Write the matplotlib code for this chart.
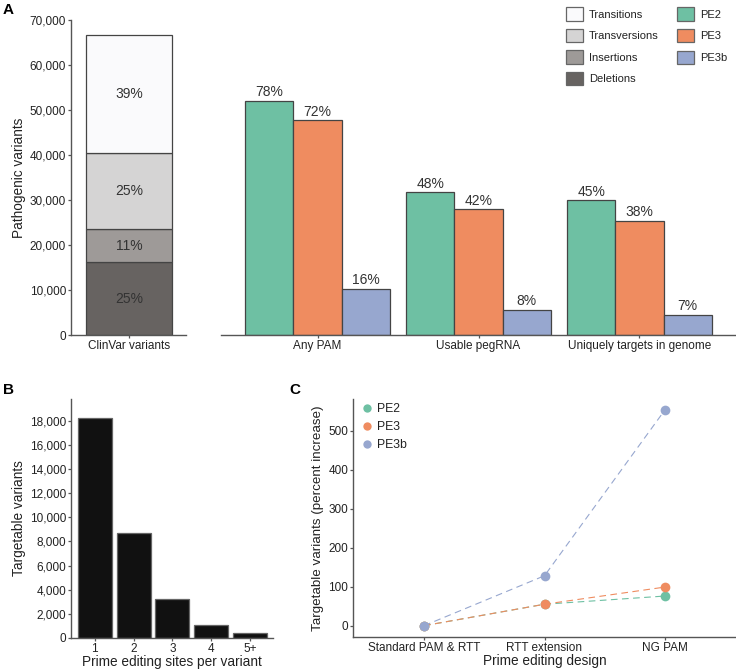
import numpy as np
import matplotlib
matplotlib.use("Agg")
import matplotlib.pyplot as plt
from matplotlib.patches import Patch
from matplotlib.lines import Line2D

plt.rcParams['font.family'] = ['Liberation Sans', 'DejaVu Sans']

# ---- data ----
# panel A, stacked ClinVar bar (bottom to top)
variant_types = ["Deletions", "Insertions", "Transversions", "Transitions"]
variant_counts = [16200, 7300, 16900, 26300]
variant_pcts = ["25%", "11%", "25%", "39%"]

# panel A, grouped bars
filters = ["Any PAM", "Usable pegRNA", "Uniquely targets in genome"]
editors = ["PE2", "PE3", "PE3b"]
pe2_counts = [52000, 31700, 29900]
pe3_counts = [47700, 27900, 25300]
pe3b_counts = [10300, 5500, 4400]
pe2_pcts = ["78%", "48%", "45%"]
pe3_pcts = ["72%", "42%", "38%"]
pe3b_pcts = ["16%", "8%", "7%"]

# panel B
sites_labels = ["1", "2", "3", "4", "5+"]
sites_counts = [18200, 8700, 3250, 1100, 400]

# panel C
designs = ["Standard PAM & RTT", "RTT extension", "NG PAM"]
pe2_increase = [0, 55, 76]
pe3_increase = [0, 55, 99]
pe3b_increase = [0, 128, 553]

grey_colors = ["#676361", "#9e9a98", "#d5d4d4", "#fafafc"]
pe_colors = ["#6ec0a3", "#ef8c60", "#97a7cf"]
edge = "#444444"
spine_c = "#555555"
text_c = "#222222"

W, H = 736, 672
fig = plt.figure(figsize=(W / 100, H / 100), dpi=100)


def px_axes(x0, y0, x1, y1):
    # axes from pixel box (top-left origin)
    return fig.add_axes([x0 / W, 1 - y1 / H, (x1 - x0) / W, (y1 - y0) / H])


def style(ax):
    for s in ["top", "right"]:
        ax.spines[s].set_visible(False)
    for s in ["left", "bottom"]:
        ax.spines[s].set_color(spine_c)
        ax.spines[s].set_linewidth(1.0)
    ax.tick_params(direction="out", length=2.5, width=0.9, color=spine_c,
                   labelsize=8.5, labelcolor=text_c, pad=1)


# ---- panel A left ----
axl = px_axes(71, 20, 186, 335)
style(axl)
bottom = 0
for cnt, col, pct in zip(variant_counts, grey_colors, variant_pcts):
    axl.bar(0, cnt, width=1.0, bottom=bottom, color=col, edgecolor=edge,
            linewidth=0.9)
    axl.text(0, bottom + cnt / 2, pct, ha="center", va="center",
             fontsize=10, color="#333333")
    bottom += cnt
axl.set_xlim(-0.675, 0.665)
axl.set_ylim(0, 70000)
axl.set_yticks(np.arange(0, 70001, 10000))
axl.set_yticklabels([f"{v:,}" for v in range(0, 70001, 10000)])
axl.set_xticks([0])
axl.set_xticklabels(["ClinVar variants"])
axl.set_ylabel("Pathogenic variants", fontsize=9.8, color=text_c, labelpad=3)

# ---- panel A right ----
axr = px_axes(221, 20, 736, 335)
style(axr)
axr.spines["left"].set_visible(False)
axr.tick_params(axis="y", left=False, labelleft=False)
x = np.arange(len(filters))
bw = 0.3
for i, (vals, pcts) in enumerate(zip([pe2_counts, pe3_counts, pe3b_counts],
                                     [pe2_pcts, pe3_pcts, pe3b_pcts])):
    xs = x + (i - 1) * bw
    axr.bar(xs, vals, width=bw, color=pe_colors[i], edgecolor=edge,
            linewidth=0.9)
    for xx, v, p in zip(xs, vals, pcts):
        axr.text(xx, v + 400, p, ha="center", va="bottom", fontsize=10,
                 color="#333333")
axr.set_xlim(-0.6, 2.6)
axr.set_ylim(0, 70000)
axr.set_xticks(x)
axr.set_xticklabels(filters)

# legends for panel A
h_grey = [Patch(facecolor=c, edgecolor="#666666", linewidth=0.9)
          for c in grey_colors[::-1]]
fig.legend(h_grey, variant_types[::-1], loc="upper left",
           bbox_to_anchor=(562 / W, 1 - 3 / H), frameon=False,
           fontsize=8, handlelength=1.45, handleheight=1.45,
           handletextpad=0.6, labelspacing=0.75, borderaxespad=0,
           labelcolor=text_c)
h_pe = [Patch(facecolor=c, edgecolor="#666666", linewidth=0.9)
        for c in pe_colors]
fig.legend(h_pe, editors, loc="upper left",
           bbox_to_anchor=(673 / W, 1 - 3 / H), frameon=False,
           fontsize=8, handlelength=1.45, handleheight=1.45,
           handletextpad=0.6, labelspacing=0.75, borderaxespad=0,
           labelcolor=text_c)

# ---- panel B ----
axb = px_axes(71, 399, 273, 638)
style(axb)
xb = np.arange(1, len(sites_labels) + 1)
axb.bar(xb, sites_counts, width=0.88, color="#111111", edgecolor="#666666",
        linewidth=0.9)
axb.set_xlim(0.385, 5.595)
axb.set_ylim(0, 19800)
axb.set_yticks(np.arange(0, 18001, 2000))
axb.set_yticklabels([f"{v:,}" for v in range(0, 18001, 2000)])
axb.set_xticks(xb)
axb.set_xticklabels(sites_labels)
axb.set_xlabel("Prime editing sites per variant", fontsize=9.8, color=text_c,
               labelpad=0)
axb.set_ylabel("Targetable variants", fontsize=9.8, color=text_c, labelpad=3)

# ---- panel C ----
axc = px_axes(353, 399, 736, 637)
style(axc)
xc = np.arange(len(designs))
for vals, col, name in zip([pe2_increase, pe3_increase, pe3b_increase],
                           pe_colors, editors):
    axc.plot(xc, vals, linestyle=(0, (6, 4)), color=col, linewidth=0.8,
             marker="o", markersize=7, markeredgewidth=0, label=name)
axc.set_xlim(-0.59, 2.59)
axc.set_ylim(-29, 581)
axc.set_yticks(np.arange(0, 501, 100))
axc.set_xticks(xc)
axc.set_xticklabels(designs)
axc.set_xlabel("Prime editing design", fontsize=9.8, color=text_c, labelpad=0)
axc.set_ylabel("Targetable variants (percent increase)", fontsize=9.6,
               color=text_c, labelpad=3)
h_c = [Line2D([], [], linestyle="none", marker="o", markersize=6,
              markeredgewidth=0, color=c) for c in pe_colors]
axc.legend(h_c, editors, loc="upper left", bbox_to_anchor=(-0.005, 1.03),
           frameon=False, fontsize=8.8, handlelength=0.8, handletextpad=0.4,
           labelspacing=0.5, labelcolor=text_c)

# ---- panel letters ----
fig.text(3 / W, 1 - 3 / H, "A", fontsize=11, fontweight="bold", va="top")
fig.text(3 / W, 1 - 383 / H, "B", fontsize=11, fontweight="bold", va="top")
fig.text(289 / W, 1 - 383 / H, "C", fontsize=11, fontweight="bold", va="top")

fig.savefig("out.png", dpi=100)
